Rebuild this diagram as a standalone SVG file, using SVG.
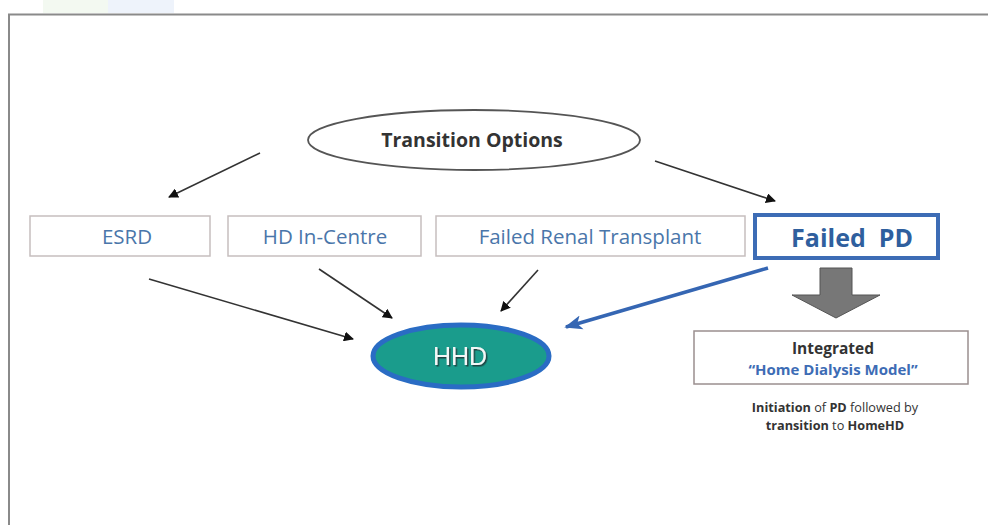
<svg xmlns="http://www.w3.org/2000/svg" width="988" height="525" viewBox="0 0 988 525">
<defs>
<style>
.t{font-family:"Open Sans","Liberation Sans",sans-serif}
.box{fill:#fff;stroke:#c6bebe;stroke-width:1.5}
.lbl{font-size:20.5px;fill:#4a76aa;text-anchor:middle}
.conn{stroke:#333;stroke-width:1.6;fill:none;marker-end:url(#ah)}
</style>
<marker id="ah" viewBox="0 0 10 10" refX="9" refY="5" markerWidth="10" markerHeight="10" orient="auto" markerUnits="userSpaceOnUse">
<path d="M0,0 L10,5 L0,10 z" fill="#111"/>
</marker>
<marker id="ahb" viewBox="0 0 10 10" refX="9" refY="5" markerWidth="18" markerHeight="18" orient="auto" markerUnits="userSpaceOnUse">
<path d="M0,1 L10,5 L0,9 L2.5,5 z" fill="#3566b3"/>
</marker>
<filter id="sh" x="-20%" y="-20%" width="140%" height="140%">
<feDropShadow dx="1.5" dy="1.5" stdDeviation="0.6" flood-color="#1f3b3a" flood-opacity="0.9"/>
</filter>
</defs>
<rect width="988" height="525" fill="#fff"/>
<rect x="43" y="0" width="65" height="13" fill="#f3f9f1"/>
<rect x="108" y="0" width="66" height="13" fill="#eef3fb"/>
<path d="M9,525 V14.5 H988" fill="none" stroke="#8a8a8a" stroke-width="2"/>

<g id="connectors">
<line class="conn" x1="260" y1="153" x2="169" y2="197"/>
<line class="conn" x1="655" y1="161" x2="775" y2="201"/>
<line class="conn" x1="149" y1="279" x2="353" y2="339"/>
<line class="conn" x1="319" y1="269" x2="392" y2="318"/>
<line class="conn" x1="538" y1="270" x2="501" y2="311"/>
<line x1="768" y1="268" x2="566" y2="327" stroke="#3566b3" stroke-width="3.5" marker-end="url(#ahb)"/>
<path d="M820,268 H852 V295 H880 L836,318 L792,295 H820 Z" fill="#777" stroke="#555" stroke-width="1"/>
</g>

<g id="transition-options">
<ellipse cx="474" cy="140" rx="166" ry="30" fill="#fff" stroke="#555" stroke-width="1.8"/>
<text class="t" x="472" y="147" font-size="19.5" font-weight="bold" fill="#333" text-anchor="middle">Transition Options</text>
</g>

<g id="esrd">
<rect class="box" x="30" y="216" width="180" height="40"/>
<text class="t lbl" x="127" y="244">ESRD</text>
</g>
<g id="hd-in-centre">
<rect class="box" x="228" y="216" width="193" height="40"/>
<text class="t lbl" x="325" y="244">HD In-Centre</text>
</g>
<g id="failed-renal-transplant">
<rect class="box" x="436" y="216" width="309" height="40"/>
<text class="t lbl" x="590" y="244">Failed Renal Transplant</text>
</g>
<g id="failed-pd">
<rect x="755" y="215" width="183" height="43" fill="#fff" stroke="#3d6cb5" stroke-width="4"/>
<text class="t" x="852" y="247" font-size="25" font-weight="bold" fill="#2f5f9e" text-anchor="middle" xml:space="preserve">Failed  PD</text>
</g>

<g id="hhd">
<ellipse cx="461" cy="356" rx="88" ry="31" fill="#1a9c8c" stroke="#2a6cc4" stroke-width="5"/>
<text x="460" y="365" font-family="Liberation Sans, Arial, sans-serif" font-size="25" fill="#f2f7f7" text-anchor="middle" filter="url(#sh)">HHD</text>
</g>

<g id="integrated-model">
<rect x="694" y="331" width="274" height="53" fill="#fff" stroke="#9a8f8f" stroke-width="1.5"/>
<text class="t" x="833" y="354" font-size="15.5" font-weight="bold" fill="#333" text-anchor="middle">Integrated</text>
<text class="t" x="833" y="375" font-size="15" font-weight="bold" fill="#3d6cb5" text-anchor="middle">“Home Dialysis Model”</text>
</g>

<g id="caption">
<text class="t" x="835" y="412" font-size="12.7" fill="#333" text-anchor="middle"><tspan font-weight="bold">Initiation</tspan> of <tspan font-weight="bold">PD</tspan> followed by</text>
<text class="t" x="835" y="430" font-size="12.7" fill="#333" text-anchor="middle"><tspan font-weight="bold">transition</tspan> to <tspan font-weight="bold">HomeHD</tspan></text>
</g>
</svg>
